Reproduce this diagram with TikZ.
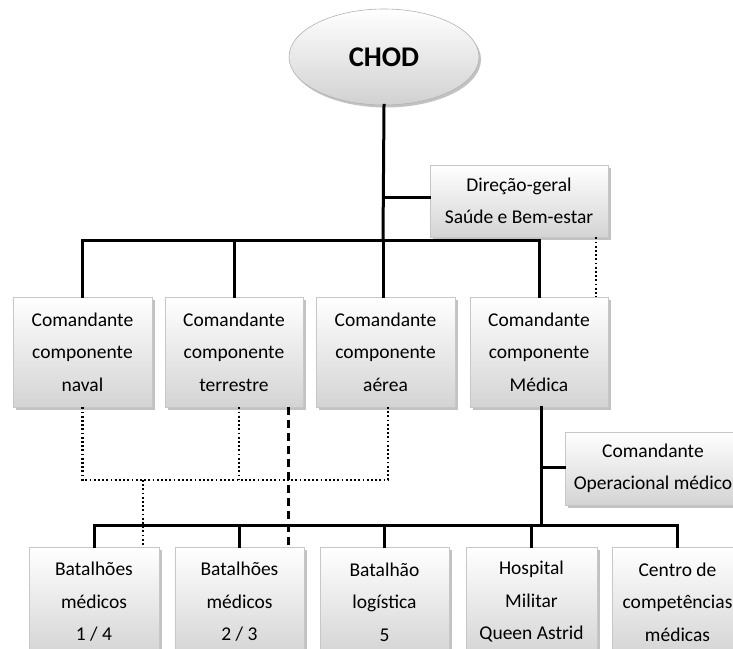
\documentclass[tikz,border=0pt]{standalone}
\usepackage{fontspec}
\setmainfont{Carlito}
\usetikzlibrary{shapes.geometric,shadows}
\begin{document}
\begin{tikzpicture}[x=1pt,y=-1pt,
  box/.style={rectangle,draw=black!22,line width=0.6pt,top color=white,bottom color=black!17,
    drop shadow={shadow xshift=2.5pt,shadow yshift=-2.5pt,fill=black!40,opacity=0.6},
    align=center,inner sep=0pt,font=\fontsize{19.5}{32.5}\selectfont},
  conn/.style={line width=3pt,line cap=rect},
  dots/.style={line width=2.6pt,dash pattern=on 1.8pt off 2.4pt},
  dashes/.style={line width=3pt,dash pattern=on 8pt off 5pt}]
\useasboundingbox (0,0) rectangle (733,648);
\clip (0,0) rectangle (733,648);
% nodes
\node[ellipse,draw=black!30,line width=0.6pt,top color=white,bottom color=black!18,
  drop shadow={shadow xshift=2pt,shadow yshift=-2.5pt,fill=black!40,opacity=0.6},
  minimum width=190pt,minimum height=96pt,inner sep=0pt,font=\fontsize{28.5}{30}\selectfont\bfseries]
  (chod) at (384,57) {CHOD};
\node[box,minimum width=178pt,minimum height=72pt] (dg) at (519,201) {Direção-geral\\Saúde e Bem-estar};
\node[box,minimum width=139pt,minimum height=110pt] (naval) at (82.5,352) {Comandante\\componente\\naval};
\node[box,minimum width=138pt,minimum height=110pt] (terr) at (234,352) {Comandante\\componente\\terrestre};
\node[box,minimum width=139pt,minimum height=110pt] (aer) at (385.5,352) {Comandante\\componente\\aérea};
\node[box,minimum width=138pt,minimum height=110pt] (med) at (539,352) {Comandante\\componente\\Médica};
\node[box,minimum width=176pt,minimum height=73pt] (cop) at (653,468.5) {Comandante\\Operacional médico};
\node[box,minimum width=130pt,minimum height=110pt] (b14) at (94,602) {Batalhões\\médicos\\1 / 4};
\node[box,minimum width=129pt,minimum height=110pt] (b23) at (239.5,602) {Batalhões\\médicos\\2 / 3};
\node[box,minimum width=129pt,minimum height=110pt] (blog) at (384.5,602) {Batalhão\\logística\\5};
\node[box,minimum width=131pt,minimum height=110pt] (hosp) at (531.5,602) {Hospital\\Militar\\Queen Astrid};
\node[box,minimum width=131pt,minimum height=110pt] (cen) at (677.5,602) {Centro de\\competências\\médicas};
% junction coordinates
\coordinate (topbus) at (383,240);
\coordinate (dgj) at (383,197);
\coordinate (botbus) at (541,525);
\coordinate (copj) at (541,467);
\coordinate (dotbus) at (143,480);
% solid connectors
\draw[conn] (chod.south) -- (topbus);
\draw[conn] (dgj) -- (dg.west |- dgj);
\draw[conn] (naval.north) -- (naval.north |- topbus) -- (med.north |- topbus) -- (med.north);
\draw[conn] (terr.north) -- (terr.north |- topbus);
\draw[conn] (aer.north -| topbus) -- (topbus);
\draw[conn] (med.south -| botbus) -- (botbus);
\draw[conn] (copj) -- (cop.west |- copj);
\draw[conn] (b14.north) -- (b14.north |- botbus) -- (cen.north |- botbus) -- (cen.north);
\draw[conn] (b23.north) -- (b23.north |- botbus);
\draw[conn] (blog.north) -- (blog.north |- botbus);
\draw[conn] (hosp.north) -- (hosp.north |- botbus);
% dotted connectors
\draw[dots] (dg.south -| 596,0) -- (med.north -| 596,0);
\draw[dots] (naval.south) -- (naval.south |- dotbus) -- (388,480) -- (aer.south -| 388,0);
\draw[dots] (terr.south -| 239,0) -- (239,480);
\draw[dots] (dotbus) -- (b14.north -| dotbus);
% dashed connector
\draw[dashes] (terr.south -| 288,0) -- (b23.north -| 288,0);
\end{tikzpicture}
\end{document}
